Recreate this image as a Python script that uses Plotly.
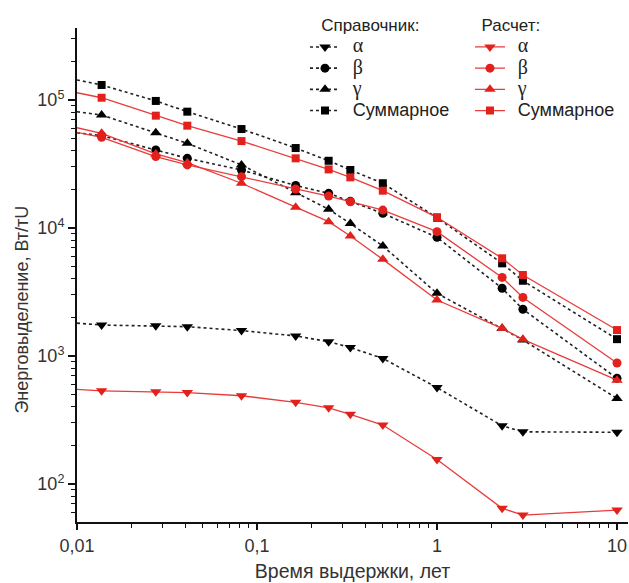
import plotly.graph_objects as go

# ---- data ----
years = [0.0137, 0.0274, 0.041, 0.082, 0.164, 0.25, 0.33, 0.5, 1, 2.3, 3, 10]

ref_alpha = [1740, 1720, 1690, 1575, 1430, 1290, 1160, 955, 565, 284, 255, 253]
ref_beta = [52500, 40600, 34900, 28300, 21400, 18600, 16100, 12970, 8430, 3370, 2310, 667]
ref_gamma = [76100, 55300, 45700, 31000, 18800, 13970, 10800, 7210, 3080, 1640, 1330, 465]
ref_sum = [130600, 98000, 80800, 59100, 42000, 33400, 28300, 22300, 12000, 5280, 3860, 1350]

calc_alpha = [533, 525, 516, 488, 433, 393, 349, 288, 155, 64.4, 57, 62.4]
calc_beta = [50900, 36000, 31000, 25100, 20100, 17700, 16000, 13760, 9330, 4100, 2860, 880]
calc_gamma = [54700, 37800, 32300, 22300, 14500, 11170, 8630, 5670, 2730, 1640, 1346, 645]
calc_sum = [103800, 75200, 62800, 47600, 34900, 28600, 24800, 19500, 12080, 5780, 4280, 1590]

# line values where the curves enter at the left edge of the plot (t = 0.01)
lead_x = 0.01
lead_ref = [1800, 55300, 80700, 143000]
lead_calc = [547, 55700, 60500, 113600]

series_names = ["α", "β", "γ", "Суммарное"]
x_tick_vals = [0.01, 0.1, 1, 10]
x_tick_text = ["0,01", "0,1", "1", "10"]
y_tick_vals = [100, 1000, 10000, 100000]
y_tick_text = ["10<sup>2</sup>", "10<sup>3</sup>", "10<sup>4</sup>", "10<sup>5</sup>"]
x_title = "Время выдержки, лет"
y_title = "Энерговыделение, Вт/тU"

# ---- styling ----
RED = "#e3211c"
RED_LINE = "#ea3b3b"
BLACK = "#000000"
symbols = ["triangle-down", "circle", "triangle-up", "square"]
sizes = [10, 9, 10, 8]
NB = "\u00a0"


def label(s):
    if len(s) == 1:
        return NB * 2 + '<span style="font-family:Liberation Serif;font-size:20px">' + s + "</span>"
    return NB * 2 + '<span style="font-size:18px">' + s + "</span>"


fig = go.Figure()

ref_sets = [ref_alpha, ref_beta, ref_gamma, ref_sum]
calc_sets = [calc_alpha, calc_beta, calc_gamma, calc_sum]

for i in range(4):
    # lead-in segments from the plot edge to the first marker
    fig.add_trace(go.Scatter(x=[lead_x, years[0]], y=[lead_ref[i], ref_sets[i][0]], mode="lines",
                             line=dict(color="#222222", width=1.6, dash="dot"),
                             showlegend=False, hoverinfo="skip"))
    fig.add_trace(go.Scatter(x=[lead_x, years[0]], y=[lead_calc[i], calc_sets[i][0]], mode="lines",
                             line=dict(color=RED_LINE, width=1.3),
                             showlegend=False, hoverinfo="skip"))

for i in range(4):
    fig.add_trace(go.Scatter(x=years, y=ref_sets[i], mode="lines+markers", name=label(series_names[i]),
                             legend="legend",
                             line=dict(color="#222222", width=1.6, dash="dot"),
                             marker=dict(symbol=symbols[i], size=sizes[i], color=BLACK)))
for i in range(4):
    fig.add_trace(go.Scatter(x=years, y=calc_sets[i], mode="lines+markers", name=label(series_names[i]),
                             legend="legend2",
                             line=dict(color=RED_LINE, width=1.3),
                             marker=dict(symbol=symbols[i], size=sizes[i], color=RED)))

minor_x = [m * 10 ** e for e in range(-2, 2) for m in range(2, 10)]
minor_y = [m * 10 ** e for e in range(1, 6) for m in range(2, 10)]

fig.update_layout(
    width=629, height=583,
    margin=dict(l=77, r=1, t=28, b=61),
    paper_bgcolor="white", plot_bgcolor="white",
    font=dict(family="Liberation Sans, Arial, sans-serif", color="#222222", size=16),
    xaxis=dict(type="log", range=[-2, 1.061], automargin=False,
               tickmode="array", tickvals=x_tick_vals, ticktext=x_tick_text,
               ticks="outside", ticklen=6, tickwidth=1.5, tickcolor="#111",
               showline=True, linecolor="#111", linewidth=2, showgrid=False, zeroline=False,
               tickfont=dict(size=18, color="#333"),
               minor=dict(tickmode="array", tickvals=minor_x, ticks="outside", ticklen=4,
                          tickwidth=1.2, tickcolor="#111", showgrid=False),
               title=dict(text=x_title, font=dict(size=19.5, color="#333"), standoff=10)),
    yaxis=dict(type="log", range=[1.702, 5.561], automargin=False,
               tickmode="array", tickvals=y_tick_vals, ticktext=y_tick_text,
               ticks="outside", ticklen=7, tickwidth=1.5, tickcolor="#111",
               showline=True, linecolor="#111", linewidth=2, showgrid=False, zeroline=False,
               tickfont=dict(size=18, color="#333"),
               minor=dict(tickmode="array", tickvals=minor_y, ticks="outside", ticklen=4,
                          tickwidth=1.2, tickcolor="#111", showgrid=False)),
    annotations=[dict(text=y_title, xref="paper", yref="paper", x=-0.0998, y=0.43,
                      xanchor="center", yanchor="middle", textangle=-90, showarrow=False,
                      font=dict(size=18, color="#333333"))],
    legend=dict(title=dict(text=NB * 3 + "Справочник:", font=dict(size=17, color="#222")),
                x=0.4138, y=1.038, xanchor="left", yanchor="top",
                bgcolor="rgba(0,0,0,0)", font=dict(size=14, color="#222"),
                tracegroupgap=0, itemwidth=30),
    legend2=dict(title=dict(text=NB * 2 + "Расчет:", font=dict(size=17, color="#222")),
                 x=0.7132, y=1.038, xanchor="left", yanchor="top",
                 bgcolor="rgba(0,0,0,0)", font=dict(size=14, color="#222"),
                 tracegroupgap=0, itemwidth=30),
)

fig.write_html("out.html", config={"displayModeBar": False},
               post_script="document.body.style.margin='0';")
